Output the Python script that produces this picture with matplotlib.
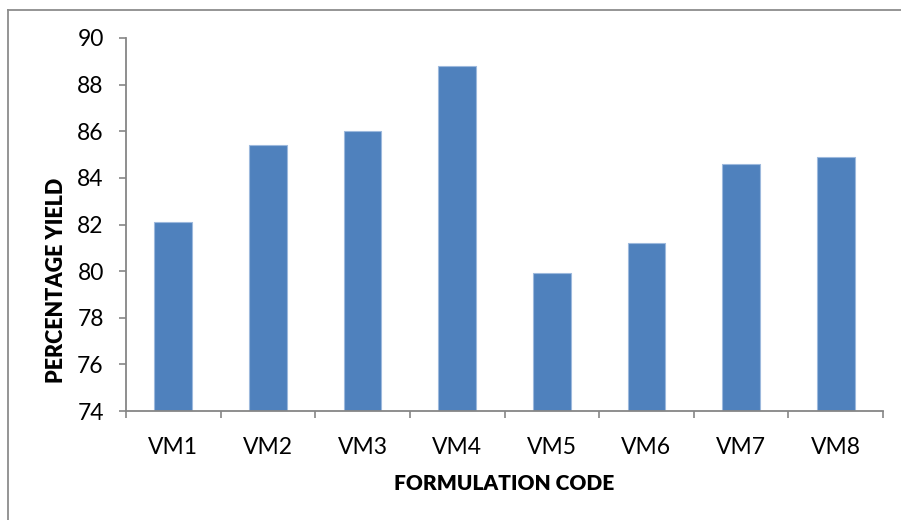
import matplotlib
matplotlib.use("Agg")
import matplotlib.pyplot as plt
from matplotlib.lines import Line2D

plt.rcParams['font.family'] = ['Lato', 'DejaVu Sans']

categories = ["VM1", "VM2", "VM3", "VM4", "VM5", "VM6", "VM7", "VM8"]
yields = [82.1, 85.4, 86.0, 88.8, 79.9, 81.2, 84.6, 84.9]
y_ticks = [74, 76, 78, 80, 82, 84, 86, 88, 90]

fig = plt.figure(figsize=(9.01, 5.20), dpi=100)
ax = fig.add_axes([126 / 901, 1 - 411 / 520, (883 - 126) / 901, (411 - 38) / 520])

x = list(range(len(categories)))
ax.bar(x, [v - 74 for v in yields], bottom=74, width=0.4,
       color="#4F81BD", edgecolor="#9DB9DD", linewidth=0.8, zorder=2)

ax.set_xlim(-0.5, len(categories) - 0.5)
ax.set_ylim(74, 90)
ax.set_yticks(y_ticks)
ax.set_yticklabels([str(t) for t in y_ticks])

ax.set_xticks(x)
ax.set_xticklabels(categories)
ax.set_xticks([i - 0.5 for i in range(len(categories) + 1)], minor=True)
ax.tick_params(axis='x', which='major', length=0, pad=18.5, labelsize=16.5)
ax.tick_params(axis='x', which='minor', length=5, width=1.2, color="#868686", direction='out')
ax.tick_params(axis='y', which='major', length=5, width=1.2, color="#868686",
               direction='out', pad=11, labelsize=16.5)

for side in ("top", "right"):
    ax.spines[side].set_visible(False)
for side in ("left", "bottom"):
    ax.spines[side].set_color("#868686")
    ax.spines[side].set_linewidth(1.3)

ax.set_xlabel("FORMULATION CODE", fontsize=15, fontweight='heavy', labelpad=12)
ax.set_ylabel("PERCENTAGE YIELD", fontsize=15.5, fontweight='heavy')
ax.yaxis.set_label_coords(-0.078, 0.349)

# chart-area frame (top and left edges)
fig.add_artist(Line2D([8 / 901, 8 / 901], [0, 1 - 10 / 520], transform=fig.transFigure,
                      color="#8C8C8C", linewidth=1.3))
fig.add_artist(Line2D([8 / 901, 1], [1 - 10 / 520, 1 - 10 / 520], transform=fig.transFigure,
                      color="#8C8C8C", linewidth=1.3))

fig.savefig("out.png", dpi=100)
